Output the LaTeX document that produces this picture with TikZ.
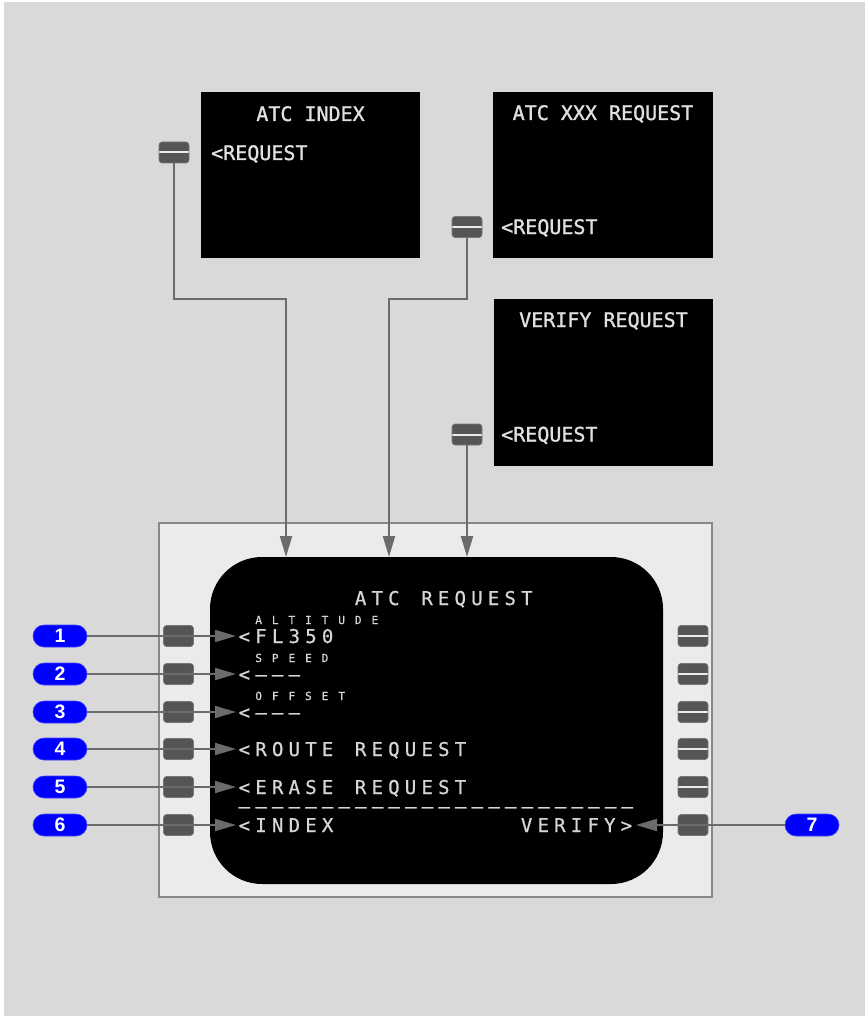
\documentclass[tikz,border=0pt]{standalone}
\usepackage{fontspec}
\usetikzlibrary{arrows.meta}
\newfontfamily\fmcfont{DejaVu Sans Mono}[LetterSpace=27.4,FakeBold=0.8]
\newfontfamily\fmcsmallfont{DejaVu Sans Mono}[LetterSpace=88,FakeBold=0.6]
\newfontfamily\boxfont{DejaVu Sans Mono}[FakeBold=1.3]
\newfontfamily\badgefont{Liberation Sans}
\definecolor{bgcol}{HTML}{D9D9D9}
\definecolor{panelbg}{HTML}{EBEBEB}
\definecolor{panelline}{HTML}{888888}
\definecolor{keygray}{HTML}{555555}
\definecolor{conncol}{HTML}{6B6B6B}
\definecolor{scrtext}{HTML}{D6D6D6}
\definecolor{boxtextcol}{HTML}{E0E0E0}
\definecolor{badgeblue}{HTML}{0000FF}
\tikzset{
  upbox/.style={fill=black, inner sep=0},
  panelbox/.style={fill=panelbg, draw=panelline, line width=2pt, inner sep=0},
  screenbox/.style={fill=black, rounded corners=52pt, inner sep=0},
  keybox/.style={fill=keygray, draw=keygray!80!white, line width=0.6pt, rounded corners=3pt, minimum width=30pt, minimum height=21pt, inner sep=0},
  keylined/.style={keybox, path picture={\draw[white!92!black, line width=2pt] (path picture bounding box.west) -- (path picture bounding box.east);}},
  badge/.style={fill=badgeblue, draw=badgeblue!75!white, line width=0.6pt, rounded corners=11pt, minimum width=54pt, minimum height=22pt, inner sep=0, text=white, font=\badgefont\bfseries\fontsize{19.5}{19.5}\selectfont},
  boxtext/.style={inner sep=0, text=boxtextcol, font=\boxfont\fontsize{20}{20}\selectfont},
  fmcbig/.style={anchor=base west, inner sep=0, text=scrtext, font=\fmcfont\fontsize{19}{19}\selectfont},
  fmclabel/.style={anchor=base west, inner sep=0, text=scrtext, font=\fmcsmallfont\fontsize{11.2}{11.2}\selectfont},
  connline/.style={draw=conncol, line width=2pt, -{Triangle[length=21pt,width=12pt]}}
}
\begin{document}
\begin{tikzpicture}[x=1pt,y=-1pt]
\useasboundingbox (0,0) rectangle (865,1016);
\fill[white] (0,0) rectangle (865,1016);
\fill[bgcol] (4,2) rectangle (865,1016);

% upper screens
\node[upbox, minimum width=219pt, minimum height=166pt] (box1) at (310.5,175) {};
\node[upbox, minimum width=220pt, minimum height=166pt] (box2) at (603,175) {};
\node[upbox, minimum width=219pt, minimum height=167pt] (box3) at (603.5,382.5) {};
\node[boxtext, anchor=base] (title1) at (310.5,121) {ATC INDEX};
\node[boxtext, anchor=base west] (req1) at (211,160) {<REQUEST};
\node[boxtext, anchor=base] (title2) at (603,120) {ATC XXX REQUEST};
\node[boxtext, anchor=base west] (req2) at (501,234) {<REQUEST};
\node[boxtext, anchor=base] (title3) at (603.5,327) {VERIFY REQUEST};
\node[boxtext, anchor=base west] (req3) at (501,441.5) {<REQUEST};
\node[keylined] (ku1) at (174,152.5) {};
\node[keylined] (ku2) at (467,227) {};
\node[keylined] (ku3) at (467,434.5) {};

% main panel and screen
\node[panelbox, minimum width=553pt, minimum height=374pt] (panel) at (435.5,710) {};
\node[screenbox, minimum width=453pt, minimum height=327pt] (scr) at (436.5,720.5) {};

% keys
\foreach \r [count=\i] in {636,674,712,749,787,825} {
  \node[keybox] (kl\i) at (178.5,\r) {};
}
\foreach \r [count=\i] in {636,674,712,749,787} {
  \node[keylined] (kr\i) at (693,\r) {};
}
\node[keybox] (kr6) at (693,825) {};

% screen text
\node[fmcbig] (tATC) at (354.7,605) {ATC};
\node[fmcbig] (tREQ) at (421.1,605) {REQUEST};
\node[fmclabel] (lALT) at (255.1,624) {ALTITUDE};
\node[fmcbig] (tFL) at (238.5,643) {<FL350};
\node[fmclabel] (lSPD) at (255.1,662) {SPEED};
\node[fmcbig] (tSPD) at (238.5,681) {<–––};
\node[fmclabel] (lOFF) at (255.1,700) {OFFSET};
\node[fmcbig] (tOFF) at (238.5,719) {<–––};
\node[fmcbig] (tROUTE) at (238.5,756) {<ROUTE};
\node[fmcbig] (tROUTE2) at (354.7,756) {REQUEST};
\node[fmcbig] (tERASE) at (238.5,794) {<ERASE};
\node[fmcbig] (tERASE2) at (354.7,794) {REQUEST};
\node[fmcbig] (tDASH) at (238.5,813) {––––––––––––––––––––––––};
\node[fmcbig] (tINDEX) at (238.5,832) {<INDEX};
\node[fmcbig] (tVERIFY) at (520.7,832) {VERIFY>};

% badges
\foreach \r [count=\i] in {636,674,712,749,787,825} {
  \node[badge] (b\i) at (60,\r) {\i};
  \coordinate (a\i) at (236,\r);
  \draw[connline] (b\i.east) -- (a\i);
}
\node[badge] (b7) at (812,825) {7};
\coordinate (a7) at (636,825);
\draw[connline] (b7.west) -- (a7);

% upper connectors
\coordinate (j1) at (286,299);
\coordinate (j2) at (389,299);
\coordinate (in1) at (286,557);
\coordinate (in2) at (389,557);
\coordinate (in3) at (467,557);
\draw[connline] (ku1.south) |- (j1) -- (in1);
\draw[connline] (ku2.south) |- (j2) -- (in2);
\draw[connline] (ku3.south) -- (in3);
\end{tikzpicture}
\end{document}
